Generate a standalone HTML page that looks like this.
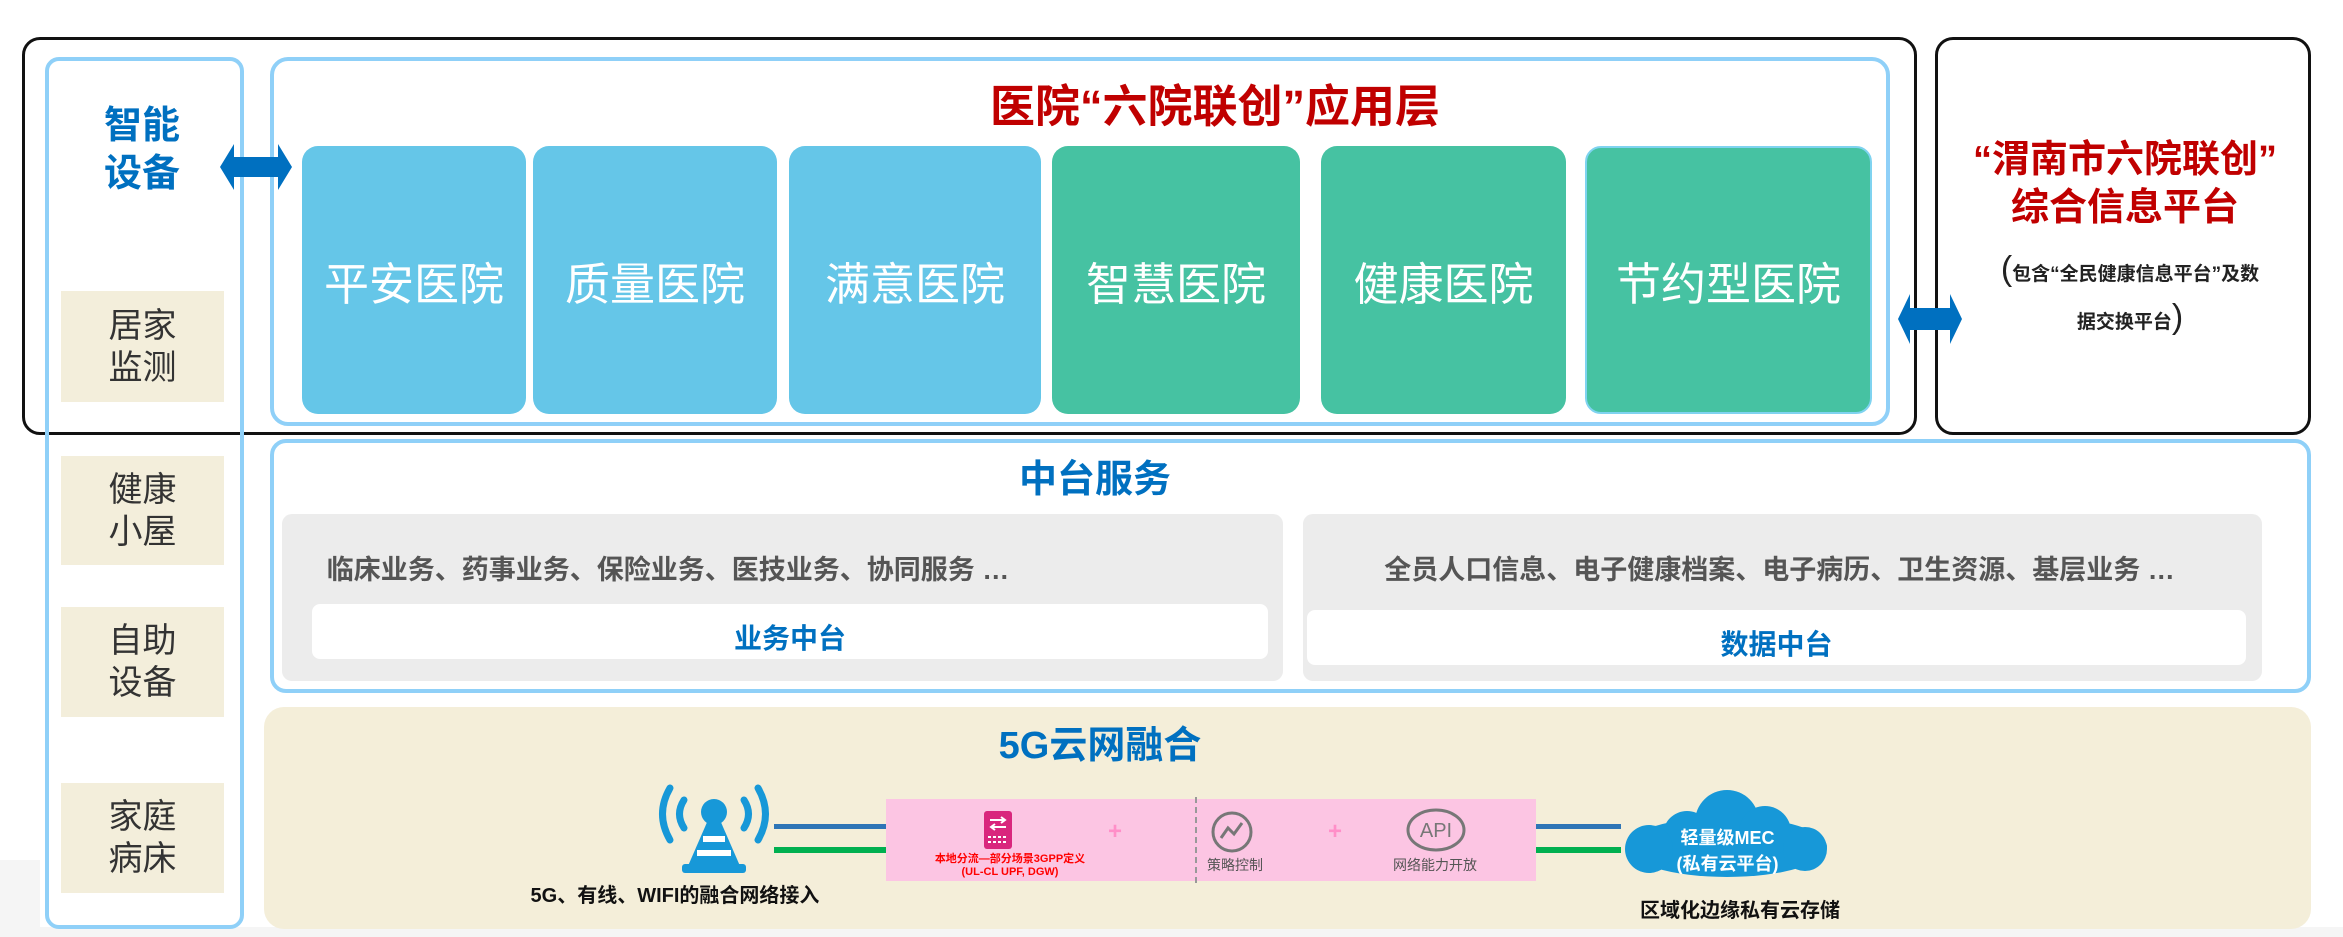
<!DOCTYPE html>
<html><head><meta charset="utf-8"><style>
*{margin:0;padding:0;box-sizing:border-box}
body{width:2343px;height:937px;background:#fff;position:relative;overflow:hidden;font-family:"Liberation Sans","Noto Sans CJK SC",sans-serif}
.a{position:absolute}
.t{position:absolute;white-space:nowrap;text-align:center}
.card{position:absolute;top:146px;height:268px;border-radius:16px;color:#fff;font-size:45px;display:flex;align-items:center;justify-content:center}
.b{background:#65c6e8}.g{background:#46c2a2}
.tan{position:absolute;left:61px;width:163px;background:#f3eedb;color:#333;font-size:34px;line-height:42px;display:flex;align-items:center;justify-content:center;text-align:center}
</style></head><body>
<div class="a" style="left:0;top:860px;width:40px;height:77px;background:#f5f5f5"></div>
<div class="a" style="left:0;top:927px;width:2343px;height:10px;background:#f5f5f5"></div>

<div class="a" style="left:22px;top:37px;width:1895px;height:398px;border:3px solid #111;border-radius:18px"></div>
<div class="a" style="left:1935px;top:37px;width:376px;height:398px;border:3px solid #111;border-radius:18px"></div>

<div class="a" style="left:45px;top:57px;width:199px;height:872px;border:4px solid #8fd0f8;border-radius:14px"></div>
<div class="a" style="left:270px;top:57px;width:1620px;height:369px;border:4px solid #8fd0f8;border-radius:18px"></div>

<div class="t" style="left:750px;top:70px;width:930px;font-size:45px;font-weight:bold;color:#c00000">医院“六院联创”应用层</div>
<div class="t" style="left:82px;top:102px;width:120px;font-size:38px;line-height:48px;font-weight:bold;color:#0070c0">智能<br>设备</div>

<svg class="a" style="left:218px;top:142px" width="76" height="50"><polygon points="2,25 16,2 16,15 60,15 60,2 74,25 60,48 60,35 16,35 16,48" fill="#0070c0"/></svg>
<svg class="a" style="left:1896px;top:292px" width="68" height="54"><polygon points="2,27 14,2 14,16 54,16 54,2 66,27 54,52 54,38 14,38 14,52" fill="#0070c0"/></svg>

<div class="card b" style="left:302px;width:224px">平安医院</div>
<div class="card b" style="left:533px;width:244px">质量医院</div>
<div class="card b" style="left:789px;width:252px">满意医院</div>
<div class="card g" style="left:1052px;width:248px">智慧医院</div>
<div class="card g" style="left:1321px;width:245px">健康医院</div>
<div class="card g" style="left:1585px;width:287px;border:2px solid #7fd3f0">节约型医院</div>

<div class="tan" style="top:291px;height:111px">居家<br>监测</div>
<div class="tan" style="top:456px;height:109px">健康<br>小屋</div>
<div class="tan" style="top:607px;height:110px">自助<br>设备</div>
<div class="tan" style="top:783px;height:110px">家庭<br>病床</div>

<div class="t" style="left:1950px;top:136px;width:350px;font-size:38px;line-height:48px;font-weight:bold;color:#c00000">“渭南市六院联创”<br>综合信息平台</div>
<div class="t" style="left:1960px;top:248px;width:340px;font-size:19px;line-height:42px;font-weight:bold;color:#222"><span style="font-size:34px;font-weight:normal">(</span>包含“全民健康信息平台”及数<br>据交换平台<span style="font-size:34px;font-weight:normal">)</span></div>

<div class="a" style="left:270px;top:439px;width:2041px;height:254px;border:4px solid #8fd0f8;border-radius:16px"></div>
<div class="t" style="left:900px;top:448px;width:390px;font-size:38px;font-weight:bold;color:#0070c0">中台服务</div>
<div class="a" style="left:282px;top:514px;width:1001px;height:167px;background:#ececec;border-radius:10px"></div>
<div class="a" style="left:1303px;top:514px;width:959px;height:167px;background:#ececec;border-radius:10px"></div>
<div class="t" style="left:282px;top:548px;width:772px;font-size:27px;font-weight:bold;color:#555">临床业务、药事业务、保险业务、医技业务、协同服务 …</div>
<div class="t" style="left:1303px;top:548px;width:953px;font-size:27px;font-weight:bold;color:#555">全员人口信息、电子健康档案、电子病历、卫生资源、基层业务 …</div>
<div class="a" style="left:312px;top:604px;width:956px;height:55px;background:#fff;border-radius:8px"></div>
<div class="a" style="left:1307px;top:610px;width:939px;height:55px;background:#fff;border-radius:8px"></div>
<div class="t" style="left:312px;top:617px;width:956px;font-size:28px;font-weight:bold;color:#0070c0">业务中台</div>
<div class="t" style="left:1307px;top:623px;width:939px;font-size:28px;font-weight:bold;color:#0070c0">数据中台</div>

<div class="a" style="left:264px;top:707px;width:2047px;height:222px;background:#f4eed9;border-radius:20px"></div>
<div class="t" style="left:900px;top:714px;width:400px;font-size:38px;font-weight:bold;color:#0070c0">5G云网融合</div>

<svg class="a" style="left:650px;top:782px" width="128" height="94">
<g fill="none" stroke="#1798d8" stroke-width="7" stroke-linecap="round"><path d="M34,18 Q25,32 34,46"/><path d="M20,6 Q5,32 20,58"/><path d="M94,18 Q103,32 94,46"/><path d="M108,6 Q123,32 108,58"/></g>
<circle cx="64" cy="30" r="13" fill="#1798d8"/>
<polygon points="58,38 70,38 90,84 38,84" fill="#1798d8"/>
<rect x="32" y="82" width="64" height="9" rx="3" fill="#1798d8"/>
<rect x="53" y="54" width="22" height="6" fill="#fff"/><rect x="47" y="68" width="34" height="6" fill="#fff"/>
</svg>
<div class="t" style="left:520px;top:879px;width:310px;font-size:20px;font-weight:bold;color:#111">5G、有线、WIFI的融合网络接入</div>

<div class="a" style="left:774px;top:824px;width:112px;height:5px;background:#2e75b6"></div>
<div class="a" style="left:774px;top:847px;width:112px;height:6px;background:#00b050"></div>
<div class="a" style="left:1536px;top:824px;width:85px;height:5px;background:#2e75b6"></div>
<div class="a" style="left:1536px;top:847px;width:85px;height:6px;background:#00b050"></div>

<div class="a" style="left:886px;top:799px;width:650px;height:82px;background:#fcc5e3"></div>
<div class="a" style="left:1195px;top:797px;width:0;height:86px;border-left:2px dashed #999"></div>
<svg class="a" style="left:983px;top:810px" width="30" height="40"><rect x="1" y="1" width="28" height="38" rx="3" fill="#d9267d"/><path d="M7,10 H22 M18,7 L22,10 L18,13 M23,17 H8 M12,14 L8,17 L12,20" stroke="#fff" stroke-width="2" fill="none"/><g fill="#fff"><rect x="5" y="26" width="3" height="2"/><rect x="10" y="26" width="3" height="2"/><rect x="15" y="26" width="3" height="2"/><rect x="20" y="26" width="3" height="2"/><rect x="5" y="31" width="3" height="2"/><rect x="10" y="31" width="3" height="2"/><rect x="15" y="31" width="3" height="2"/><rect x="20" y="31" width="3" height="2"/></g></svg>
<div class="t" style="left:1100px;top:818px;width:30px;font-size:24px;font-weight:bold;color:#ff8fc8">+</div>
<div class="t" style="left:1320px;top:818px;width:30px;font-size:24px;font-weight:bold;color:#ff8fc8">+</div>
<div class="t" style="left:920px;top:853px;width:180px;font-size:11px;line-height:13px;font-weight:bold;color:#ff0000">本地分流—部分场景3GPP定义<br>(UL-CL UPF, DGW)</div>
<svg class="a" style="left:1210px;top:810px" width="44" height="44"><circle cx="22" cy="22" r="19" fill="none" stroke="#777" stroke-width="3"/><path d="M11,28 L18,18 L24,24 L32,13" stroke="#777" stroke-width="3" fill="none"/></svg>
<div class="t" style="left:1200px;top:855px;width:70px;font-size:14px;color:#555">策略控制</div>
<svg class="a" style="left:1405px;top:807px" width="62" height="46"><ellipse cx="31" cy="23" rx="28" ry="20" fill="none" stroke="#777" stroke-width="3"/><text x="31" y="30" text-anchor="middle" font-size="20" fill="#777" font-family="Liberation Sans">API</text></svg>
<div class="t" style="left:1380px;top:855px;width:110px;font-size:14px;color:#555">网络能力开放</div>

<svg class="a" style="left:1615px;top:787px" width="225" height="96"><g fill="#1798d8"><ellipse cx="112" cy="60" rx="100" ry="30"/><circle cx="112" cy="35" r="32"/><circle cx="72" cy="48" r="24"/><circle cx="150" cy="45" r="26"/><circle cx="190" cy="62" r="22"/><circle cx="34" cy="62" r="24"/></g></svg>
<div class="t" style="left:1615px;top:825px;width:225px;font-size:18px;line-height:26px;font-weight:bold;color:#fff">轻量级MEC<br>(私有云平台)</div>
<div class="t" style="left:1620px;top:894px;width:240px;font-size:20px;font-weight:bold;color:#111">区域化边缘私有云存储</div>
</body></html>
